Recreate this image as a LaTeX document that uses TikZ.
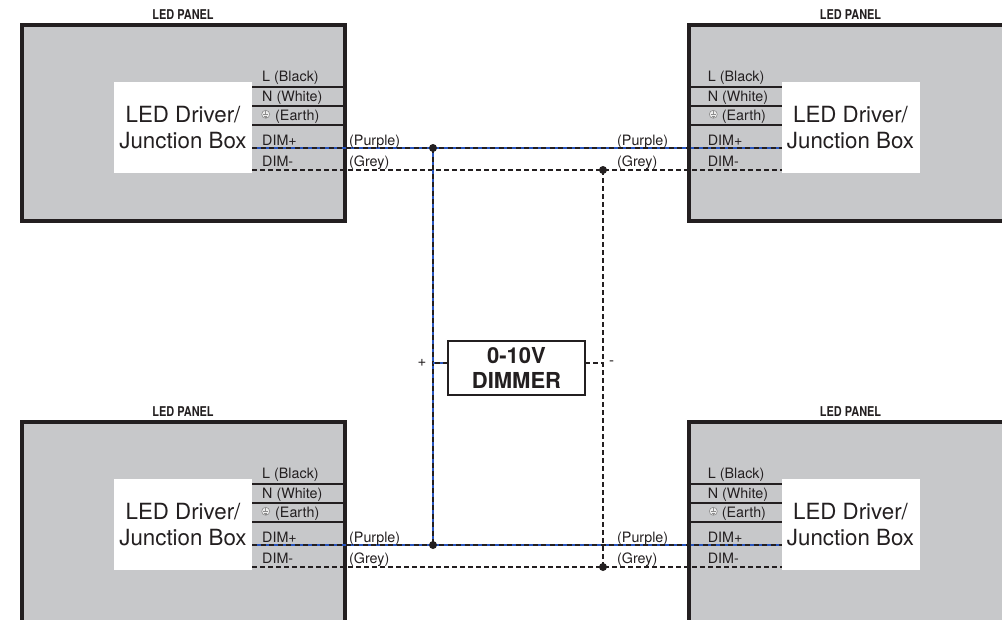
\documentclass[tikz,border=0pt]{standalone}
\usepackage{fontspec}
\setmainfont{TeX Gyre Heros}
\definecolor{panelgrey}{RGB}{199,200,202}
\definecolor{ink}{RGB}{35,31,32}
\definecolor{wireblue}{RGB}{40,85,190}
\definecolor{earthgrey}{RGB}{140,140,140}
\tikzset{
  panel/.style={fill=panelgrey, draw=ink, line width=3.8pt},
  drvbox/.style={fill=white, draw=none, minimum width=138pt, minimum height=91pt, inner sep=0pt},
  drvtext/.style={font=\fontsize{22.3}{26}\selectfont, text=ink, anchor=base, inner sep=0pt},
  term/.style={font=\fontsize{14.3}{16}\selectfont, text=ink, anchor=base west, inner sep=0pt},
  ptitle/.style={font=\fontsize{13.5}{15}\selectfont\bfseries, text=ink, anchor=base, inner sep=0pt},
  termline/.style={draw=ink, line width=1.6pt},
  greywire/.style={draw=ink, line width=2.1pt, dash pattern=on 5pt off 3pt},
  purplewire/.style={draw=ink, line width=2.1pt, dash pattern=on 5pt off 3.5pt,
     preaction={draw=wireblue, solid, line width=2.1pt}},
  dimmerbox/.style={draw=ink, line width=1.9pt, fill=white, minimum width=137pt, minimum height=54pt,
     inner sep=0pt, align=center, font=\fontsize{22}{25}\selectfont\bfseries, text=ink},
  jdot/.style={fill=ink},
  sign/.style={font=\fontsize{15}{17}\selectfont, text=ink, inner sep=0pt},
  earthsym/.style={draw=earthgrey, fill=white!85!earthgrey, line width=0.6pt},
}
\begin{document}
\begin{tikzpicture}[x=1pt,y=-1pt]
\path[use as bounding box, fill=white] (0,0) rectangle (1002,619);
\clip (0,0) rectangle (1002,619);

\foreach \r/\dy/\pb in {T/0/221, B/397/225} {
  \begin{scope}[shift={(0,\dy)}]
    % ---- left panel ----
    \path[panel] (22,25) rectangle (345,\pb);
    \node[ptitle] (titL\r) at (183,19) {\scalebox{0.81}[1]{LED PANEL}};
    \node[drvbox] (drvL\r) at (183,127.5) {};
    \node[drvtext] (drvLa\r) at (183,122) {LED Driver/};
    \node[drvtext] (drvLb\r) at (183,148) {Junction Box};
    \coordinate (tL1\r) at (252,87);  \coordinate (tL1e\r) at (345,87);
    \coordinate (tL2\r) at (252,106); \coordinate (tL2e\r) at (345,106);
    \coordinate (tL3\r) at (252,125); \coordinate (tL3e\r) at (345,125);
    \draw[termline] (tL1\r) -- (tL1e\r);
    \draw[termline] (tL2\r) -- (tL2e\r);
    \draw[termline] (tL3\r) -- (tL3e\r);
    \node[term] (lbL1\r) at (262,81) {L (Black)};
    \node[term] (lbL2\r) at (262,101.5) {N (White)};
    \node[earthsym, circle, minimum size=8pt, inner sep=0pt] (eaL\r) at (265.7,114.3) {};
    \draw[earthgrey, line width=0.5pt] (265.7,111.2) -- (265.7,114.6)
       (263.2,114.6) -- (268.2,114.6) (264,116) -- (267.4,116) (264.9,117.3) -- (266.5,117.3);
    \node[term] (lbL3\r) at (275,120) {(Earth)};
    \node[term] (lbL4\r) at (262,145.5) {DIM+};
    \node[term] (lbL5\r) at (262,166.5) {DIM-};
    % ---- right panel ----
    \path[panel] (689,25) rectangle (1012,\pb);
    \node[ptitle] (titR\r) at (850.5,19) {\scalebox{0.81}[1]{LED PANEL}};
    \node[drvbox] (drvR\r) at (850.5,127.5) {};
    \node[drvtext] (drvRa\r) at (850.5,122) {LED Driver/};
    \node[drvtext] (drvRb\r) at (850.5,148) {Junction Box};
    \coordinate (tR1\r) at (689,87);  \coordinate (tR1e\r) at (782,87);
    \coordinate (tR2\r) at (689,106); \coordinate (tR2e\r) at (782,106);
    \coordinate (tR3\r) at (689,125); \coordinate (tR3e\r) at (782,125);
    \draw[termline] (tR1\r) -- (tR1e\r);
    \draw[termline] (tR2\r) -- (tR2e\r);
    \draw[termline] (tR3\r) -- (tR3e\r);
    \node[term] (lbR1\r) at (707.7,81) {L (Black)};
    \node[term] (lbR2\r) at (707.7,101.5) {N (White)};
    \node[earthsym, circle, minimum size=8pt, inner sep=0pt] (eaR\r) at (713.3,114.3) {};
    \draw[earthgrey, line width=0.5pt] (713.3,111.2) -- (713.3,114.6)
       (710.8,114.6) -- (715.8,114.6) (711.6,116) -- (715,116) (712.5,117.3) -- (714.1,117.3);
    \node[term] (lbR3\r) at (721.7,120) {(Earth)};
    \node[term] (lbR4\r) at (707.7,145.5) {DIM+};
    \node[term] (lbR5\r) at (707.7,166.5) {DIM-};
    % ---- wires ----
    \coordinate (pL\r) at (252,148); \coordinate (pR\r) at (782,148);
    \coordinate (gL\r) at (252,170); \coordinate (gR\r) at (782,170);
    \coordinate (jp\r) at (433,148); \coordinate (jg\r) at (603,170);
    \draw[purplewire] (pL\r) -- (pR\r);
    \draw[greywire] (gL\r) -- (gR\r);
    \node[term] (wp1\r) at (349,145) {(Purple)};
    \node[term] (wg1\r) at (349,166.5) {(Grey)};
    \node[term] (wp2\r) at (617,145) {(Purple)};
    \node[term] (wg2\r) at (617,166.5) {(Grey)};
  \end{scope}
}

% ---- dimmer ----
\node[dimmerbox] (dim) at (516.5,368) {0-10V\\DIMMER};
\coordinate (dimp) at (448,363);
\coordinate (dimm) at (585,363);
\draw[purplewire] (jpT) -- (jpB);
\draw[greywire] (jgT) -- (jgB);
\draw[purplewire] (dimp) -- (dimp -| jpT);
\draw[greywire] (dimm) -- (dimm -| jgT);
\node[sign] (plus) at (422,363) {+};
\node[sign] (minus) at (611.5,363) {-};
\fill[jdot] (jpT) circle (4);
\fill[jdot] (jgT) circle (4);
\fill[jdot] (jpB) circle (4);
\fill[jdot] (jgB) circle (4);
\end{tikzpicture}
\end{document}
